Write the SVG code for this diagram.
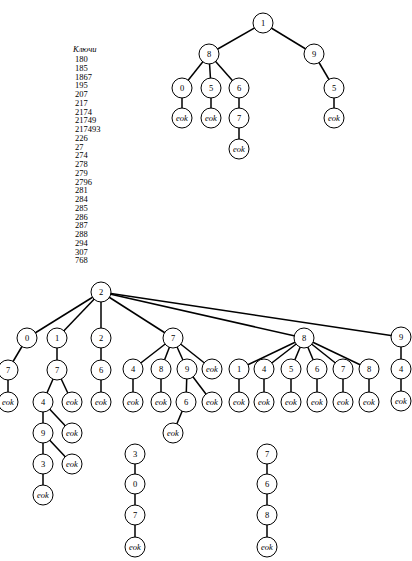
<svg xmlns="http://www.w3.org/2000/svg" width="412" height="561" viewBox="0 0 412 561">
<style>
.n circle{fill:#fff;stroke:#000;stroke-width:1}
.n text{font-family:"Liberation Serif","DejaVu Serif",serif;font-size:8.5px;text-anchor:middle;fill:#000}
.n text.e{font-style:italic}
.c line{stroke:#000;stroke-width:1.5}
.k{font-family:"Liberation Serif","DejaVu Serif",serif;font-size:8.5px;fill:#000}
</style>
<rect width="412" height="561" fill="#fff"/>
<g id="keys" class="k">
<text x="73" y="52" font-style="italic">Ключи</text>
<text x="75" y="62">180</text><text x="75" y="70.75">185</text><text x="75" y="79.5">1867</text><text x="75" y="88.25">195</text><text x="75" y="97">207</text><text x="75" y="105.75">217</text><text x="75" y="114.5">2174</text><text x="75" y="123.25">21749</text><text x="75" y="132">217493</text><text x="75" y="140.75">226</text><text x="75" y="149.5">27</text><text x="75" y="158.25">274</text><text x="75" y="167">278</text><text x="75" y="175.75">279</text><text x="75" y="184.5">2796</text><text x="75" y="193.25">281</text><text x="75" y="202">284</text><text x="75" y="210.75">285</text><text x="75" y="219.5">286</text><text x="75" y="228.25">287</text><text x="75" y="237">288</text><text x="75" y="245.75">294</text><text x="75" y="254.5">307</text><text x="75" y="263.25">768</text>
</g>
<g id="connectors" class="c">
<line x1="263" y1="23" x2="209" y2="54"/><line x1="263" y1="23" x2="314" y2="54"/>
<line x1="209" y1="54" x2="182" y2="88"/><line x1="209" y1="54" x2="211" y2="88"/><line x1="209" y1="54" x2="239" y2="88"/>
<line x1="182" y1="88" x2="182" y2="118"/><line x1="211" y1="88" x2="211" y2="118"/><line x1="239" y1="88" x2="239" y2="118"/><line x1="239" y1="118" x2="239" y2="149"/>
<line x1="314" y1="54" x2="334" y2="88"/><line x1="334" y1="88" x2="334" y2="118"/>
<line x1="101" y1="292" x2="27" y2="338"/><line x1="101" y1="292" x2="57" y2="338"/><line x1="101" y1="292" x2="101" y2="338"/><line x1="101" y1="292" x2="173" y2="338"/><line x1="101" y1="292" x2="304" y2="338"/><line x1="101" y1="292" x2="401" y2="337"/>
<line x1="27" y1="338" x2="8" y2="370"/><line x1="8" y1="370" x2="8" y2="402"/>
<line x1="57" y1="338" x2="57" y2="370"/><line x1="57" y1="370" x2="43" y2="402"/><line x1="57" y1="370" x2="72" y2="402"/>
<line x1="43" y1="402" x2="43" y2="433"/><line x1="43" y1="402" x2="72" y2="433"/><line x1="43" y1="433" x2="43" y2="464"/><line x1="43" y1="433" x2="72" y2="464"/><line x1="43" y1="464" x2="43" y2="495"/>
<line x1="101" y1="338" x2="101" y2="370"/><line x1="101" y1="370" x2="101" y2="402"/>
<line x1="173" y1="338" x2="133" y2="369"/><line x1="173" y1="338" x2="161" y2="369"/><line x1="173" y1="338" x2="187" y2="369"/><line x1="173" y1="338" x2="212" y2="369"/>
<line x1="133" y1="369" x2="133" y2="402"/><line x1="161" y1="369" x2="161" y2="402"/><line x1="187" y1="369" x2="186" y2="402"/><line x1="187" y1="369" x2="212" y2="402"/><line x1="186" y1="402" x2="173" y2="433"/>
<line x1="304" y1="338" x2="239" y2="369"/><line x1="304" y1="338" x2="264" y2="369"/><line x1="304" y1="338" x2="291" y2="369"/><line x1="304" y1="338" x2="317" y2="369"/><line x1="304" y1="338" x2="343" y2="369"/><line x1="304" y1="338" x2="369" y2="369"/>
<line x1="239" y1="369" x2="239" y2="402"/><line x1="264" y1="369" x2="264" y2="402"/><line x1="291" y1="369" x2="291" y2="402"/><line x1="317" y1="369" x2="317" y2="402"/><line x1="343" y1="369" x2="343" y2="402"/><line x1="369" y1="369" x2="369" y2="402"/>
<line x1="401" y1="337" x2="401" y2="369"/><line x1="401" y1="369" x2="401" y2="401"/>
<line x1="135" y1="454" x2="135" y2="547"/>
<line x1="267" y1="454" x2="267" y2="547"/>
</g>
<g id="t1" class="n"><circle cx="263" cy="23" r="10"/><text x="263" y="26">1</text></g>
<g id="t18" class="n"><circle cx="209" cy="54" r="10"/><text x="209" y="57">8</text></g>
<g id="t19" class="n"><circle cx="314" cy="54" r="10"/><text x="314" y="57">9</text></g>
<g id="t180" class="n"><circle cx="182" cy="88" r="10"/><text x="182" y="91">0</text></g>
<g id="t185" class="n"><circle cx="211" cy="88" r="10"/><text x="211" y="91">5</text></g>
<g id="t186" class="n"><circle cx="239" cy="88" r="10"/><text x="239" y="91">6</text></g>
<g id="t195" class="n"><circle cx="334" cy="88" r="10"/><text x="334" y="91">5</text></g>
<g id="t180e" class="n"><circle cx="182" cy="118" r="10"/><text class="e" x="182" y="121">eok</text></g>
<g id="t185e" class="n"><circle cx="211" cy="118" r="10"/><text class="e" x="211" y="121">eok</text></g>
<g id="t1867" class="n"><circle cx="239" cy="118" r="10"/><text x="239" y="121">7</text></g>
<g id="t1867e" class="n"><circle cx="239" cy="149" r="10"/><text class="e" x="239" y="152">eok</text></g>
<g id="t195e" class="n"><circle cx="334" cy="118" r="10"/><text class="e" x="334" y="121">eok</text></g>
<g id="b2" class="n"><circle cx="101" cy="292" r="10"/><text x="101" y="295">2</text></g>
<g id="b20" class="n"><circle cx="27" cy="338" r="10"/><text x="27" y="341">0</text></g>
<g id="b21" class="n"><circle cx="57" cy="338" r="10"/><text x="57" y="341">1</text></g>
<g id="b22" class="n"><circle cx="101" cy="338" r="10"/><text x="101" y="341">2</text></g>
<g id="b27" class="n"><circle cx="173" cy="338" r="10"/><text x="173" y="341">7</text></g>
<g id="b28" class="n"><circle cx="304" cy="338" r="10"/><text x="304" y="341">8</text></g>
<g id="b29" class="n"><circle cx="401" cy="337" r="10"/><text x="401" y="340">9</text></g>
<g id="b207" class="n"><circle cx="8" cy="370" r="10"/><text x="8" y="373">7</text></g>
<g id="b207e" class="n"><circle cx="8" cy="402" r="10"/><text class="e" x="8" y="405">eok</text></g>
<g id="b217" class="n"><circle cx="57" cy="370" r="10"/><text x="57" y="373">7</text></g>
<g id="b2174" class="n"><circle cx="43" cy="402" r="10"/><text x="43" y="405">4</text></g>
<g id="b217e" class="n"><circle cx="72" cy="402" r="10"/><text class="e" x="72" y="405">eok</text></g>
<g id="b21749" class="n"><circle cx="43" cy="433" r="10"/><text x="43" y="436">9</text></g>
<g id="b2174e" class="n"><circle cx="72" cy="433" r="10"/><text class="e" x="72" y="436">eok</text></g>
<g id="b217493" class="n"><circle cx="43" cy="464" r="10"/><text x="43" y="467">3</text></g>
<g id="b21749e" class="n"><circle cx="72" cy="464" r="10"/><text class="e" x="72" y="467">eok</text></g>
<g id="b217493e" class="n"><circle cx="43" cy="495" r="10"/><text class="e" x="43" y="498">eok</text></g>
<g id="b226" class="n"><circle cx="101" cy="370" r="10"/><text x="101" y="373">6</text></g>
<g id="b226e" class="n"><circle cx="101" cy="402" r="10"/><text class="e" x="101" y="405">eok</text></g>
<g id="b274" class="n"><circle cx="133" cy="369" r="10"/><text x="133" y="372">4</text></g>
<g id="b278" class="n"><circle cx="161" cy="369" r="10"/><text x="161" y="372">8</text></g>
<g id="b279" class="n"><circle cx="187" cy="369" r="10"/><text x="187" y="372">9</text></g>
<g id="b27e" class="n"><circle cx="212" cy="369" r="10"/><text class="e" x="212" y="372">eok</text></g>
<g id="b274e" class="n"><circle cx="133" cy="402" r="10"/><text class="e" x="133" y="405">eok</text></g>
<g id="b278e" class="n"><circle cx="161" cy="402" r="10"/><text class="e" x="161" y="405">eok</text></g>
<g id="b2796" class="n"><circle cx="186" cy="402" r="10"/><text x="186" y="405">6</text></g>
<g id="b279e" class="n"><circle cx="212" cy="402" r="10"/><text class="e" x="212" y="405">eok</text></g>
<g id="b2796e" class="n"><circle cx="173" cy="433" r="10"/><text class="e" x="173" y="436">eok</text></g>
<g id="b281" class="n"><circle cx="239" cy="369" r="10"/><text x="239" y="372">1</text></g>
<g id="b284" class="n"><circle cx="264" cy="369" r="10"/><text x="264" y="372">4</text></g>
<g id="b285" class="n"><circle cx="291" cy="369" r="10"/><text x="291" y="372">5</text></g>
<g id="b286" class="n"><circle cx="317" cy="369" r="10"/><text x="317" y="372">6</text></g>
<g id="b287" class="n"><circle cx="343" cy="369" r="10"/><text x="343" y="372">7</text></g>
<g id="b288" class="n"><circle cx="369" cy="369" r="10"/><text x="369" y="372">8</text></g>
<g id="b294" class="n"><circle cx="401" cy="369" r="10"/><text x="401" y="372">4</text></g>
<g id="b281e" class="n"><circle cx="239" cy="402" r="10"/><text class="e" x="239" y="405">eok</text></g>
<g id="b284e" class="n"><circle cx="264" cy="402" r="10"/><text class="e" x="264" y="405">eok</text></g>
<g id="b285e" class="n"><circle cx="291" cy="402" r="10"/><text class="e" x="291" y="405">eok</text></g>
<g id="b286e" class="n"><circle cx="317" cy="402" r="10"/><text class="e" x="317" y="405">eok</text></g>
<g id="b287e" class="n"><circle cx="343" cy="402" r="10"/><text class="e" x="343" y="405">eok</text></g>
<g id="b288e" class="n"><circle cx="369" cy="402" r="10"/><text class="e" x="369" y="405">eok</text></g>
<g id="b294e" class="n"><circle cx="401" cy="401" r="10"/><text class="e" x="401" y="404">eok</text></g>
<g id="c3" class="n"><circle cx="135" cy="454" r="10"/><text x="135" y="457">3</text></g>
<g id="c30" class="n"><circle cx="135" cy="484" r="10"/><text x="135" y="487">0</text></g>
<g id="c307" class="n"><circle cx="135" cy="515" r="10"/><text x="135" y="518">7</text></g>
<g id="c307e" class="n"><circle cx="135" cy="547" r="10"/><text class="e" x="135" y="550">eok</text></g>
<g id="c7" class="n"><circle cx="267" cy="454" r="10"/><text x="267" y="457">7</text></g>
<g id="c76" class="n"><circle cx="267" cy="484" r="10"/><text x="267" y="487">6</text></g>
<g id="c768" class="n"><circle cx="267" cy="515" r="10"/><text x="267" y="518">8</text></g>
<g id="c768e" class="n"><circle cx="267" cy="547" r="10"/><text class="e" x="267" y="550">eok</text></g>
</svg>
